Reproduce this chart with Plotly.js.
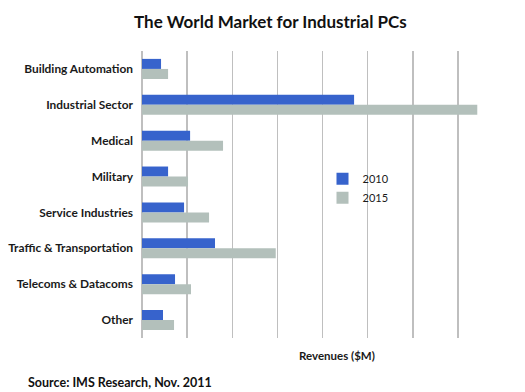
<!DOCTYPE html>
<html>
<head>
<meta charset="utf-8">
<script src="https://cdn.plot.ly/plotly-3.0.1.min.js"></script>
<style>html,body{margin:0;padding:0;background:#fff;}#chart{width:525px;height:392px;}</style>
</head>
<body>
<div id="chart"></div>
<script>
var categories = ["Building Automation", "Industrial Sector", "Medical", "Military", "Service Industries", "Traffic & Transportation", "Telecoms & Datacoms", "Other"];
var values2010 = [211, 2350, 533, 289, 466, 809, 366, 233];
var values2015 = [289, 3715, 898, 510, 743, 1482, 543, 355];
var seriesNames = ["2010", "2015"];

var fontFam = "Lato, 'Open Sans', sans-serif";
var traces = [
  {type: 'bar', orientation: 'h', name: seriesNames[0], y: categories, x: values2010,
   marker: {color: '#3763CC'}, hoverinfo: 'none'},
  {type: 'bar', orientation: 'h', name: seriesNames[1], y: categories, x: values2015,
   marker: {color: '#B3C0BB'}, hoverinfo: 'none'}
];
var layout = {
  width: 525, height: 392,
  margin: {l: 142, r: 22, t: 51, b: 54},
  paper_bgcolor: '#fff', plot_bgcolor: '#fff',
  font: {family: fontFam, color: '#1a1a1a', size: 11},
  title: {text: '<b>The World Market for Industrial PCs</b>', x: 0.515, xanchor: 'center', y: 0.945, yanchor: 'middle',
          font: {family: fontFam, size: 17, color: '#111'}},
  barmode: 'group', bargap: 0.44, bargroupgap: 0,
  xaxis: {range: [0, 4000], dtick: 500, showticklabels: false, showgrid: true, gridcolor: '#BFBFBF', gridwidth: 1.5,
          zeroline: true, zerolinecolor: '#BFBFBF', zerolinewidth: 1.5, fixedrange: true},
  yaxis: {autorange: 'reversed', showgrid: false, zeroline: false, ticks: '', ticklabelstandoff: 8,
          tickfont: {family: fontFam, size: 11.9, color: '#1a1a1a', weight: 'bold'}, fixedrange: true},
  legend: {x: 0.5, y: 0.605, xanchor: 'left', yanchor: 'top', bgcolor: 'rgba(0,0,0,0)',
           font: {family: fontFam, size: 11, color: '#1a1a1a'}, itemwidth: 30, tracegroupgap: 0},
  showlegend: true,
  annotations: [
    {text: '<b>Revenues ($M)</b>', xref: 'paper', yref: 'paper', x: 0.54, y: -0.032, xanchor: 'center', yanchor: 'top',
     showarrow: false, font: {family: fontFam, size: 11.5, color: '#1a1a1a'}},
    {text: '<b>Source: IMS Research, Nov. 2011</b>', xref: 'paper', yref: 'paper', x: -0.32, y: -0.122, xanchor: 'left', yanchor: 'top',
     showarrow: false, font: {family: fontFam, size: 12.5, color: '#111'}}
  ]
};
Plotly.newPlot('chart', traces, layout, {displayModeBar: false, staticPlot: true});
</script>
</body>
</html>
